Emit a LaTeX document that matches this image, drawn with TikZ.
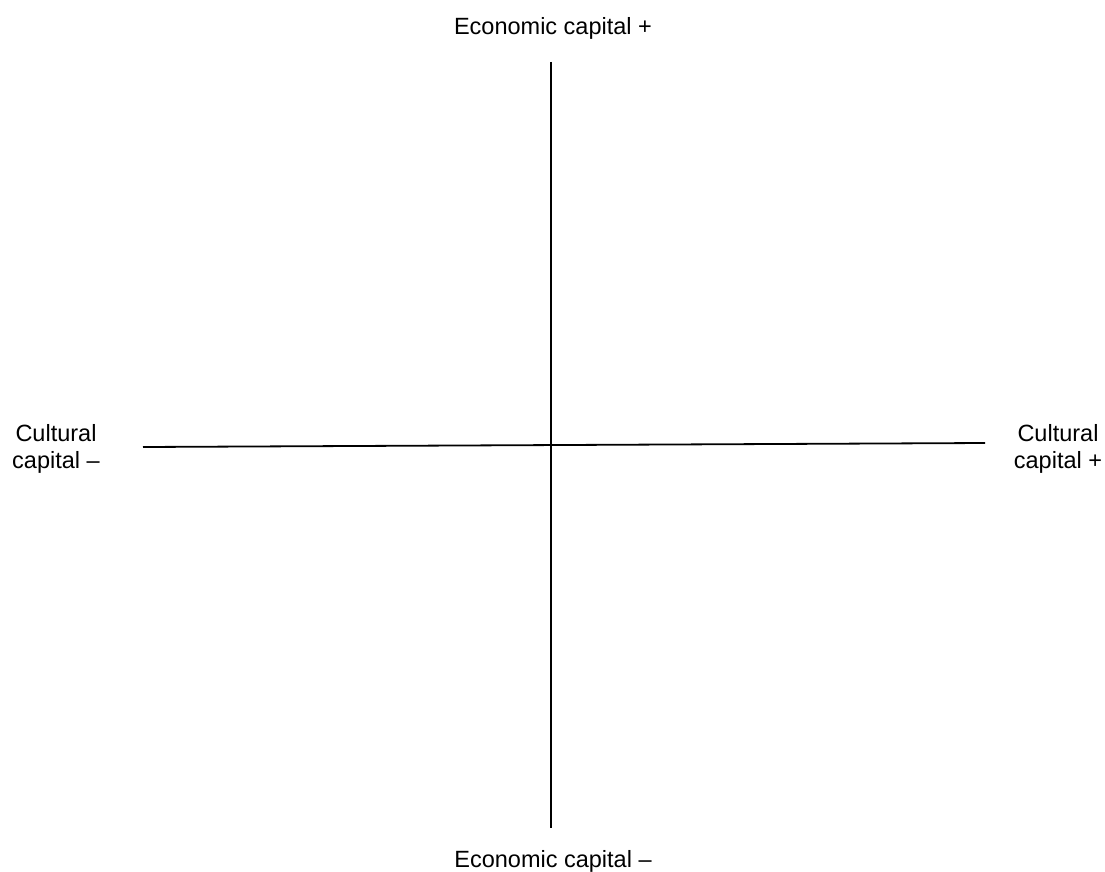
\documentclass[tikz,border=0pt]{standalone}
\usepackage{fontspec}
\setmainfont{Liberation Sans}
\begin{document}
\begin{tikzpicture}[x=1pt,y=-1pt,
  lbl/.style={font=\fontsize{23.5}{27}\selectfont, inner sep=0pt, anchor=base, align=center},
  axis/.style={line width=1.8pt, black}]
\useasboundingbox[fill=white] (0,0) rectangle (1105,872);
\coordinate (top) at (551,62);
\coordinate (bot) at (551,828);
\coordinate (left) at (143,447);
\coordinate (right) at (985,443);
\draw[axis] (top) -- (bot);
\draw[axis] (left) -- (right);
\node[lbl] (ecoplus) at (553,35) {Economic capital +};
\node[lbl] (ecominus) at (553,867) {Economic capital –};
\node[lbl] (culminus) at (56,468) {Cultural\\capital –};
\node[lbl] (culplus) at (1058,468) {Cultural\\capital +};
\end{tikzpicture}
\end{document}
